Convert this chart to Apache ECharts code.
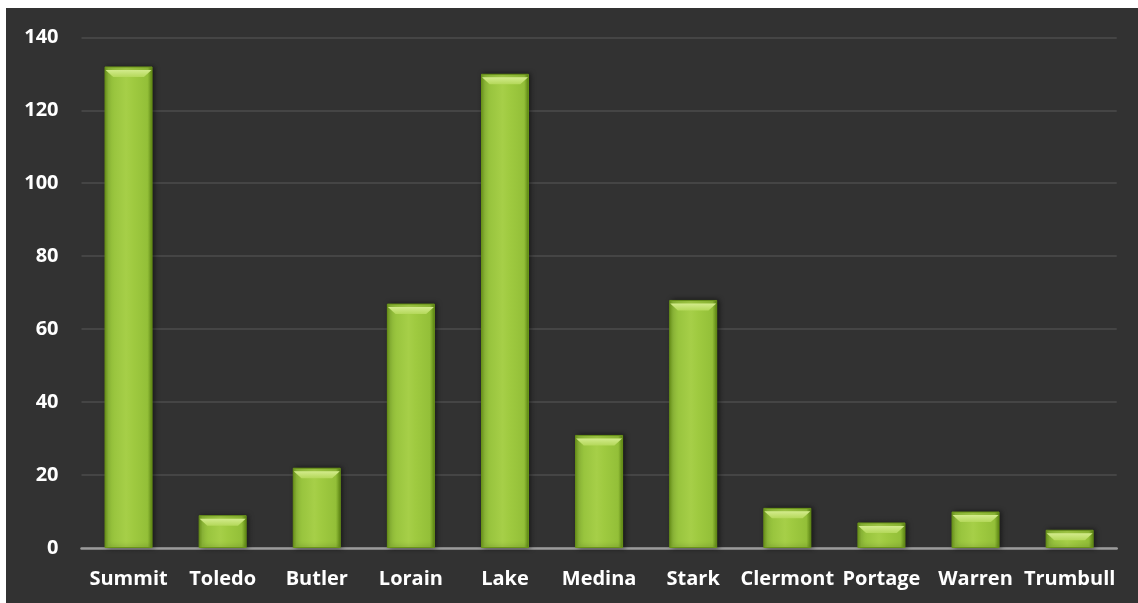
<!DOCTYPE html>
<html>
<head>
<meta charset="utf-8">
<script src="https://cdn.jsdelivr.net/npm/echarts@6/dist/echarts.min.js"></script>
<style>
  html, body { margin: 0; padding: 0; background: #ffffff; width: 1138px; height: 603px; overflow: hidden; }
  #chart { position: absolute; left: 6px; top: 8px; width: 1132px; height: 595px; }
</style>
</head>
<body>
<div id="chart"></div>
<script>
const categories = ['Summit', 'Toledo', 'Butler', 'Lorain', 'Lake', 'Medina', 'Stark', 'Clermont', 'Portage', 'Warren', 'Trumbull'];
const values = [132, 9, 22, 67, 130, 31, 68, 11, 7, 10, 5];
const yTicks = [0, 20, 40, 60, 80, 100, 120, 140];

const chart = echarts.init(document.getElementById('chart'), null, { renderer: 'canvas' });
const fontFamily = '"Open Sans", "DejaVu Sans", sans-serif';
const barW = 48;

chart.setOption({
  backgroundColor: '#323232',
  animation: false,
  grid: { left: 75.5, right: 21.3, top: 29.3, bottom: 55, containLabel: false },
  xAxis: {
    type: 'category',
    data: categories,
    axisLine: { show: true, lineStyle: { color: '#9b9b9b', width: 2.5 } },
    axisTick: { show: false },
    axisLabel: { interval: 0, color: '#ffffff', fontFamily: fontFamily, fontWeight: 'bold', fontSize: 20, margin: 21 },
    splitLine: { show: false }
  },
  yAxis: {
    type: 'value',
    min: yTicks[0],
    max: yTicks[yTicks.length - 1],
    interval: yTicks[1] - yTicks[0],
    axisLine: { show: false },
    axisTick: { show: false },
    axisLabel: { color: '#ffffff', fontFamily: fontFamily, fontWeight: 'bold', fontSize: 20, margin: 23 },
    splitLine: { show: true, lineStyle: { color: '#454545', width: 2 } }
  },
  series: [
    {
      type: 'bar',
      data: values,
      barWidth: barW,
      itemStyle: {
        color: new echarts.graphic.LinearGradient(0, 0, 1, 0, [
          { offset: 0, color: '#6f9a1c' },
          { offset: 0.08, color: '#93c03a' },
          { offset: 0.45, color: '#a6cf48' },
          { offset: 0.6, color: '#9fca40' },
          { offset: 0.9, color: '#93bf38' },
          { offset: 1, color: '#5d8712' }
        ]),
        borderColor: '#6a9419',
        borderWidth: 1,
        shadowColor: 'rgba(0,0,0,0.55)',
        shadowBlur: 5,
        shadowOffsetX: 2,
        shadowOffsetY: 0
      },
      z: 2
    },
    {
      type: 'pictorialBar',
      data: values,
      symbol: 'path://M0,0 L48,0 L40,7 L8,7 Z',
      symbolSize: [barW - 2, 7],
      symbolPosition: 'end',
      symbolOffset: [0, '50%'],
      itemStyle: {
        color: new echarts.graphic.LinearGradient(0, 0, 0, 1, [
          { offset: 0, color: '#d3eb8c' },
          { offset: 1, color: '#b4d85a' }
        ])
      },
      silent: true,
      z: 3
    }
  ]
});
</script>
</body>
</html>
